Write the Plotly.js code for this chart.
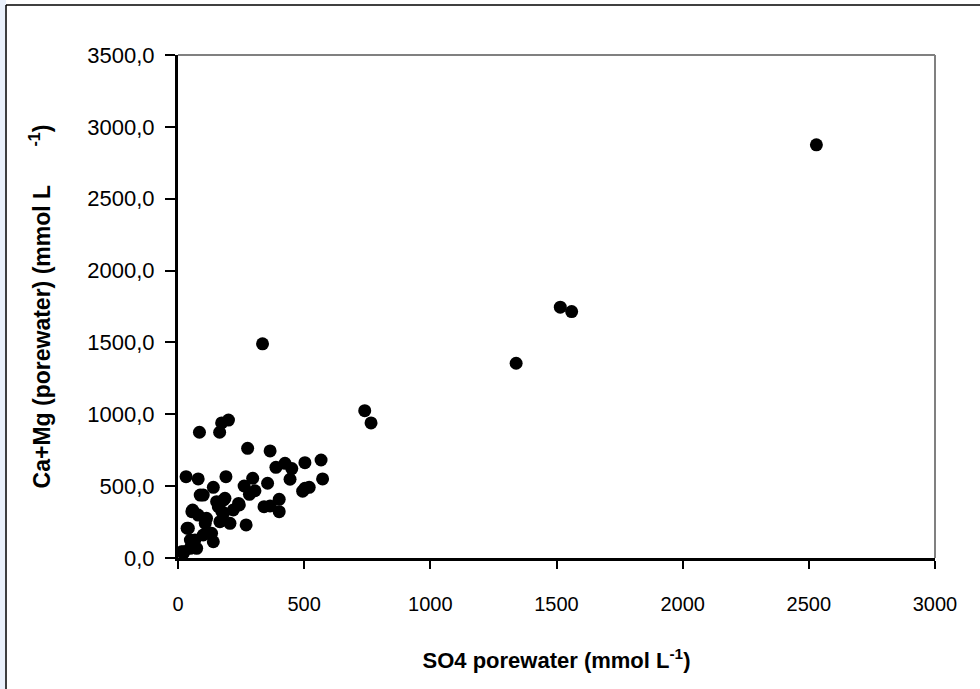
<!DOCTYPE html>
<html>
<head>
<meta charset="utf-8">
<script src="https://cdn.plot.ly/plotly-3.0.1.min.js"></script>
<style>
html,body{margin:0;padding:0;background:#fff;}
#chart{width:980px;height:689px;}
</style>
</head>
<body>
<div id="chart"></div>
<script>
// SO4 porewater (mmol L-1)
var so4 = [2530, 1515, 1560, 1340, 740, 765, 335, 85, 165, 173, 200, 276, 365,
  32, 80, 190, 388, 424, 451, 444, 503, 567, 573, 503, 520, 494, 355, 296, 262,
  305, 283, 341, 365, 401, 401, 270, 243, 186, 206, 180, 160, 140, 100, 58, 41,
  80, 113, 133, 140, 67, 48, 21, 74, 100, 166, 153, 219, 240, 174, 108, 122, 49,
  23, 88, 181, 55, 36, 15];
// Ca+Mg porewater (mmol L-1)
var camg = [2875, 1745, 1715, 1355, 1025, 940, 1490, 875, 875, 940, 960, 763, 745,
  566, 550, 566, 631, 659, 622, 548, 663, 682, 550, 485, 492, 465, 520, 555, 501,
  468, 443, 357, 362, 408, 322, 230, 369, 415, 241, 311, 357, 492, 438, 334, 207,
  299, 276, 172, 113, 125, 67, 33, 67, 160, 253, 392, 334, 380, 322, 241, 172, 125,
  44, 438, 404, 322, 207, 44];

var xTicks = [0, 500, 1000, 1500, 2000, 2500, 3000];
var yTicks = [0, 500, 1000, 1500, 2000, 2500, 3000, 3500];

var xTitle = 'SO4 porewater (mmol L<sup>-1</sup>)';
var yTitle = 'Ca+Mg (porewater) (mmol L\u00A0\u00A0\u00A0\u00A0\u00A0 <sup>-1</sup>)';

var trace = {
  x: so4, y: camg, type: 'scatter', mode: 'markers',
  marker: {color: '#000', size: 13, line: {width: 0}},
  hoverinfo: 'x+y'
};

var font = 'Liberation Sans, Arial, sans-serif';

var layout = {
  width: 980, height: 689,
  paper_bgcolor: '#fff', plot_bgcolor: '#fff',
  showlegend: false,
  separators: ',.',
  margin: {l: 178, r: 45, t: 55, b: 131, pad: 0},
  font: {family: font, color: '#000'},
  xaxis: {
    range: [0, 3000], tickvals: xTicks, tickformat: 'd',
    showgrid: false, zeroline: false, showline: true, linecolor: '#000', linewidth: 3,
    ticks: 'outside', ticklen: 8, tickwidth: 2, tickcolor: '#000',
    tickfont: {size: 20, family: font}, ticklabelstandoff: 18,
    title: {text: xTitle, font: {size: 22, family: font, weight: 'bold'}, standoff: 39},
    automargin: false, fixedrange: true
  },
  yaxis: {
    range: [0, 3500], tickvals: yTicks, tickformat: '.1f',
    showgrid: false, zeroline: false, showline: true, linecolor: '#000', linewidth: 3,
    ticks: 'outside', ticklen: 10, tickwidth: 2, tickcolor: '#000',
    tickfont: {size: 22, family: font}, ticklabelstandoff: 6,
    title: {text: yTitle, font: {size: 23, family: font, weight: 'bold'}, standoff: 31},
    automargin: false, fixedrange: true
  },
  shapes: [
    // plot area top and right borders (grey)
    {type: 'line', xref: 'paper', yref: 'paper', x0: 0, x1: 1, y0: 1, y1: 1, line: {color: '#808080', width: 2}},
    {type: 'line', xref: 'paper', yref: 'paper', x0: 1, x1: 1, y0: 0, y1: 1, line: {color: '#808080', width: 2}},
    // light blue strip at left edge of the picture
    {type: 'rect', xref: 'paper', yref: 'paper', x0: -0.2352, x1: -0.2272, y0: -0.261, y1: 1.12,
     line: {width: 0}, fillcolor: '#e9f0fb', layer: 'below'},
    // outer frame lines
    {type: 'line', xref: 'paper', yref: 'paper', x0: -0.2272, x1: 1.06, y0: 1.0994, y1: 1.0994, line: {color: '#000', width: 1.5}},
    {type: 'line', xref: 'paper', yref: 'paper', x0: -0.2272, x1: -0.2272, y0: -0.261, y1: 1.0994, line: {color: '#000', width: 1.5}}
  ]
};

Plotly.newPlot('chart', [trace], layout, {displayModeBar: false, staticPlot: true});
</script>
</body>
</html>
